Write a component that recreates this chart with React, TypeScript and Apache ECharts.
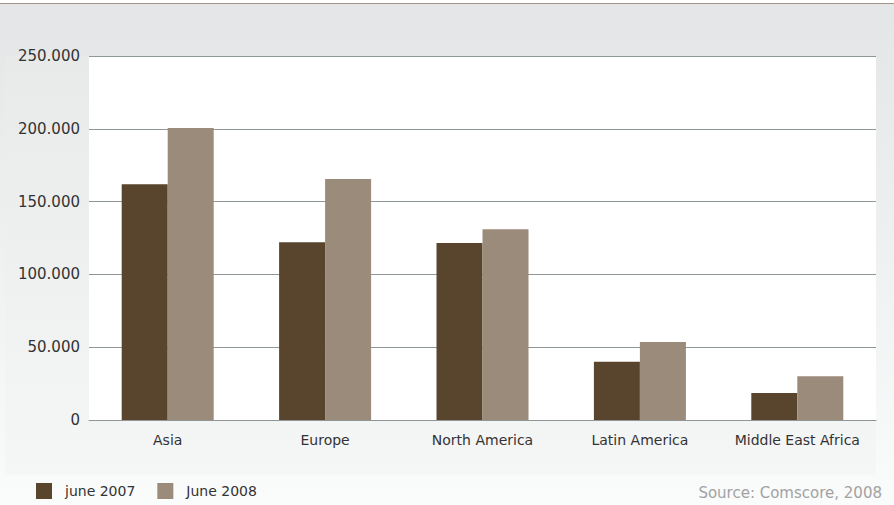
import React, { useEffect, useRef } from "react";
import * as echarts from "echarts";

const categories = ["Asia", "Europe", "North America", "Latin America", "Middle East Africa"];
const june2007 = [162000, 122000, 121500, 40000, 18500];
const june2008 = [200500, 165500, 131000, 53500, 30000];
const seriesNames = ["june 2007", "June 2008"];
const yTicks = [0, 50000, 100000, 150000, 200000, 250000];
const sourceText = "Source: Comscore, 2008";

const W = 894;
const H = 505;

// thousands separated with a dot, e.g. 250.000
const fmt = (v: number) =>
  v === 0 ? "0" : String(v).replace(/\B(?=(\d{3})+(?!\d))/g, ".");

export default function App() {
  const ref = useRef<HTMLDivElement>(null);

  useEffect(() => {
    if (!ref.current) return;
    const chart = echarts.init(ref.current, undefined, { renderer: "svg", width: W, height: H });
    const font = "'DejaVu Sans', sans-serif";
    chart.setOption({
      animation: false,
      backgroundColor: "#fbfbfb",
      graphic: [
        {
          type: "rect",
          z: -10,
          silent: true,
          shape: { x: 0, y: 0, width: W, height: H },
          style: {
            fill: new echarts.graphic.LinearGradient(0, 0, 0, 1, [
              { offset: 0, color: "#e4e5e6" },
              { offset: 1, color: "#fafbfb" },
            ]),
          },
        },
        {
          type: "rect",
          z: -9,
          silent: true,
          shape: { x: 5, y: 56, width: 871, height: 419 },
          style: {
            fill: new echarts.graphic.LinearGradient(0, 0, 0, 1, [
              { offset: 0, color: "#e8eaea" },
              { offset: 1, color: "#f5f6f6" },
            ]),
          },
        },
        {
          type: "rect",
          z: -9,
          silent: true,
          shape: { x: 0, y: 0, width: W, height: 3 },
          style: { fill: "#ffffff" },
        },
        {
          type: "line",
          z: -8,
          silent: true,
          shape: { x1: 0, y1: 3.5, x2: W, y2: 3.5 },
          style: { stroke: "#a39483", lineWidth: 1 },
        },
        {
          type: "text",
          right: 12,
          top: 485,
          style: {
            text: sourceText,
            fill: "#a2a2a2",
            font: `15px ${font}`,
          },
        },
      ],
      grid: {
        left: 89,
        right: 18,
        top: 56,
        bottom: 85,
        show: true,
        backgroundColor: "#ffffff",
        borderWidth: 0,
      },
      legend: {
        left: 36,
        top: 483,
        padding: 0,
        itemWidth: 16,
        itemHeight: 16,
        itemGap: 22,
        icon: "rect",
        data: seriesNames,
        textStyle: {
          fontFamily: font,
          fontSize: 14,
          color: "#333333",
          padding: [0, 0, 0, 8],
        },
      },
      xAxis: {
        type: "category",
        data: categories,
        axisLine: { show: true, lineStyle: { color: "#8e9696", width: 1 } },
        axisTick: { show: false },
        axisLabel: {
          interval: 0,
          margin: 13,
          fontFamily: font,
          fontSize: 14,
          color: "#333333",
        },
      },
      yAxis: {
        type: "value",
        min: yTicks[0],
        max: yTicks[yTicks.length - 1],
        interval: yTicks[1] - yTicks[0],
        axisLine: { show: false },
        axisTick: { show: false },
        splitLine: { lineStyle: { color: "#8e9696", width: 1 } },
        axisLabel: {
          margin: 9,
          fontFamily: font,
          fontSize: 15,
          color: "#333333",
          formatter: (v: number) => fmt(v),
        },
      },
      series: [
        {
          name: seriesNames[0],
          type: "bar",
          data: june2007,
          barWidth: 46,
          barGap: "0%",
          itemStyle: { color: "#59452d" },
        },
        {
          name: seriesNames[1],
          type: "bar",
          data: june2008,
          barWidth: 46,
          barGap: "0%",
          itemStyle: { color: "#9a8b7a" },
        },
      ],
    });
    return () => chart.dispose();
  }, []);

  return (
    <div
      ref={ref}
      style={{ position: "fixed", left: 0, top: 0, width: W, height: H }}
    />
  );
}
